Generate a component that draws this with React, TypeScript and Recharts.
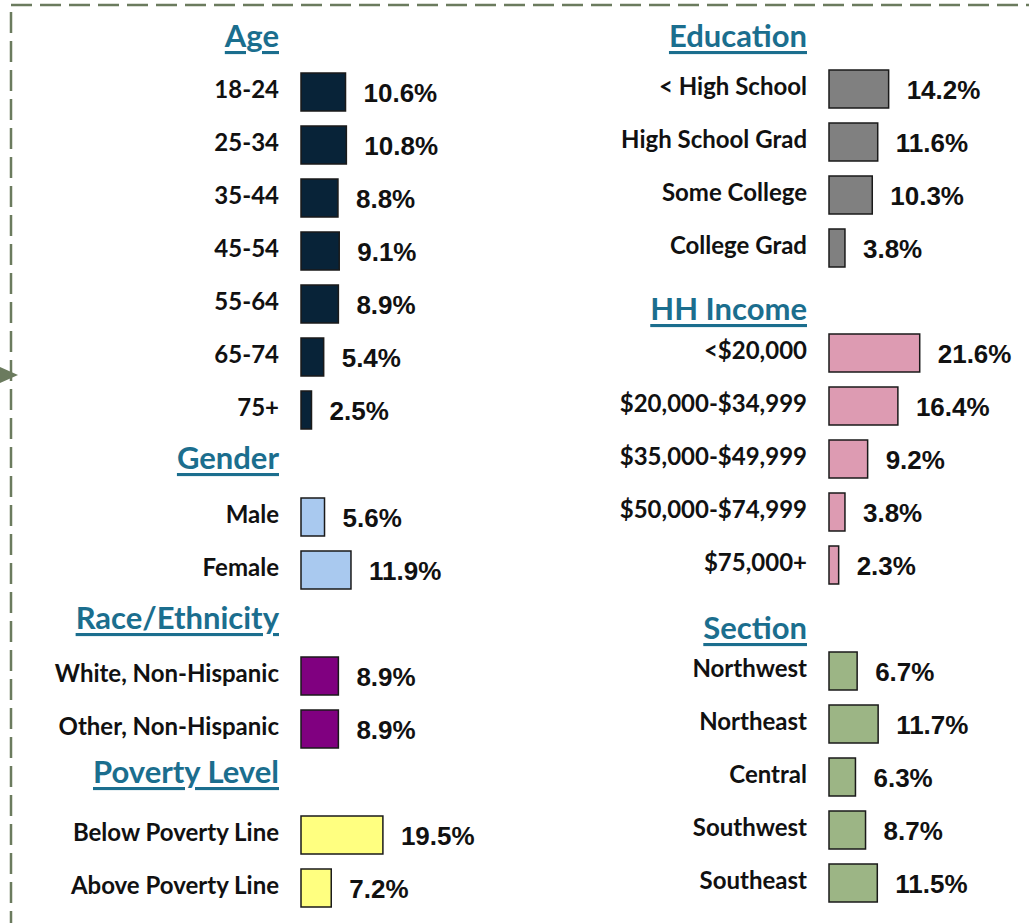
import React from "react";
import { BarChart, Bar, XAxis, YAxis, Cell, LabelList } from "recharts";

// ---- data (percent of adults in each group) ----
const ageLabels = ["18-24", "25-34", "35-44", "45-54", "55-64", "65-74", "75+"];
const ageValues = [10.6, 10.8, 8.8, 9.1, 8.9, 5.4, 2.5];

const genderLabels = ["Male", "Female"];
const genderValues = [5.6, 11.9];

const raceLabels = ["White, Non-Hispanic", "Other, Non-Hispanic"];
const raceValues = [8.9, 8.9];

const povertyLabels = ["Below Poverty Line", "Above Poverty Line"];
const povertyValues = [19.5, 7.2];

const educationLabels = ["< High School", "High School Grad", "Some College", "College Grad"];
const educationValues = [14.2, 11.6, 10.3, 3.8];

const incomeLabels = ["<$20,000", "$20,000-$34,999", "$35,000-$49,999", "$50,000-$74,999", "$75,000+"];
const incomeValues = [21.6, 16.4, 9.2, 3.8, 2.3];

const sectionLabels = ["Northwest", "Northeast", "Central", "Southwest", "Southeast"];
const sectionValues = [6.7, 11.7, 6.3, 8.7, 11.5];

// ---- layout ----
const PX_PER_PCT = 4.2;
const ROW_H = 53;
const HEADER = "#1b6e8e";
const BORDER = "#6b7b5e";
const LABEL_FONT = "Lato, 'Open Sans', sans-serif";
const VALUE_FONT = "'Liberation Sans', Arial, sans-serif";

const columns = {
  left: { x: 0, width: 511, axisWidth: 301 },
  right: { x: 520, width: 509, axisWidth: 309 },
};

type Group = {
  title: string;
  labels: string[];
  values: number[];
  color: string;
  col: "left" | "right";
  headerY: number; // header text centre
  firstY: number; // centre of first row
};

const groups: Group[] = [
  { title: "Age", labels: ageLabels, values: ageValues, color: "#082338", col: "left", headerY: 35, firstY: 91 },
  { title: "Gender", labels: genderLabels, values: genderValues, color: "#a9c9ef", col: "left", headerY: 457, firstY: 516 },
  { title: "Race/Ethnicity", labels: raceLabels, values: raceValues, color: "#800080", col: "left", headerY: 617, firstY: 675 },
  { title: "Poverty Level", labels: povertyLabels, values: povertyValues, color: "#ffff80", col: "left", headerY: 771, firstY: 834 },
  { title: "Education", labels: educationLabels, values: educationValues, color: "#808080", col: "right", headerY: 35, firstY: 88 },
  { title: "HH Income", labels: incomeLabels, values: incomeValues, color: "#dd9bb2", col: "right", headerY: 308, firstY: 352 },
  { title: "Section", labels: sectionLabels, values: sectionValues, color: "#9cb585", col: "right", headerY: 627, firstY: 670 },
];

function CategoryTick(props: any) {
  const { x, y, payload } = props;
  return (
    <text
      x={x}
      y={y - 3}
      textAnchor="end"
      dominantBaseline="central"
      fill="#111"
      fontFamily={LABEL_FONT}
      fontWeight={700}
      fontSize={24}
    >
      {payload.value}
    </text>
  );
}

function ValueLabel(props: any) {
  const { x, y, width, height, value } = props;
  if (value == null) return null;
  return (
    <text
      x={Number(x) + Number(width) + 18}
      y={Number(y) + Number(height) / 2 + 1}
      dominantBaseline="central"
      fill="#111"
      fontFamily={VALUE_FONT}
      fontWeight={700}
      fontSize={26}
    >
      {`${Number(value).toFixed(1)}%`}
    </text>
  );
}

function GroupChart({ g }: { g: Group }) {
  const col = columns[g.col];
  const rows = g.labels.map((name, i) => ({ name, value: g.values[i] }));
  const plotW = col.width - col.axisWidth;
  return (
    <div style={{ position: "absolute", left: col.x, top: g.firstY - ROW_H / 2 }}>
      <BarChart
        width={col.width}
        height={rows.length * ROW_H}
        data={rows}
        layout="vertical"
        margin={{ top: 0, right: 0, bottom: 0, left: 0 }}
        style={{ overflow: "visible" }}
      >
        <XAxis type="number" hide domain={[0, plotW / PX_PER_PCT]} />
        <YAxis
          type="category"
          dataKey="name"
          width={col.axisWidth}
          axisLine={false}
          tickLine={false}
          tickSize={0}
          tickMargin={22}
          interval={0}
          tick={<CategoryTick />}
        />
        <Bar dataKey="value" barSize={38} stroke="#1a1a1a" strokeWidth={1.5} isAnimationActive={false}>
          {rows.map((_, i) => (
            <Cell key={i} fill={g.color} />
          ))}
          <LabelList dataKey="value" content={<ValueLabel />} />
        </Bar>
      </BarChart>
    </div>
  );
}

export default function App() {
  return (
    <div
      style={{
        position: "absolute",
        left: 0,
        top: 0,
        width: 1029,
        height: 923,
        background: "#fff",
        overflow: "hidden",
      }}
    >
      <svg width={1029} height={923} style={{ position: "absolute", left: 0, top: 0 }}>
        <line x1={11} y1={5} x2={1029} y2={5} stroke={BORDER} strokeWidth={2.5} strokeDasharray="21 8" />
        <line x1={11} y1={12} x2={11} y2={923} stroke={BORDER} strokeWidth={2.5} strokeDasharray="21 8" />
        <polygon points="0,367 18,375 0,383" fill={BORDER} />
        {groups.map((g) => {
          const col = columns[g.col];
          return (
            <text
              key={g.title}
              x={col.x + col.axisWidth - 22}
              y={g.headerY}
              textAnchor="end"
              dominantBaseline="central"
              fill={HEADER}
              fontFamily={LABEL_FONT}
              fontWeight={700}
              fontSize={31}
              textDecoration="underline"
            >
              {g.title}
            </text>
          );
        })}
      </svg>
      {groups.map((g) => (
        <GroupChart key={g.title} g={g} />
      ))}
    </div>
  );
}
